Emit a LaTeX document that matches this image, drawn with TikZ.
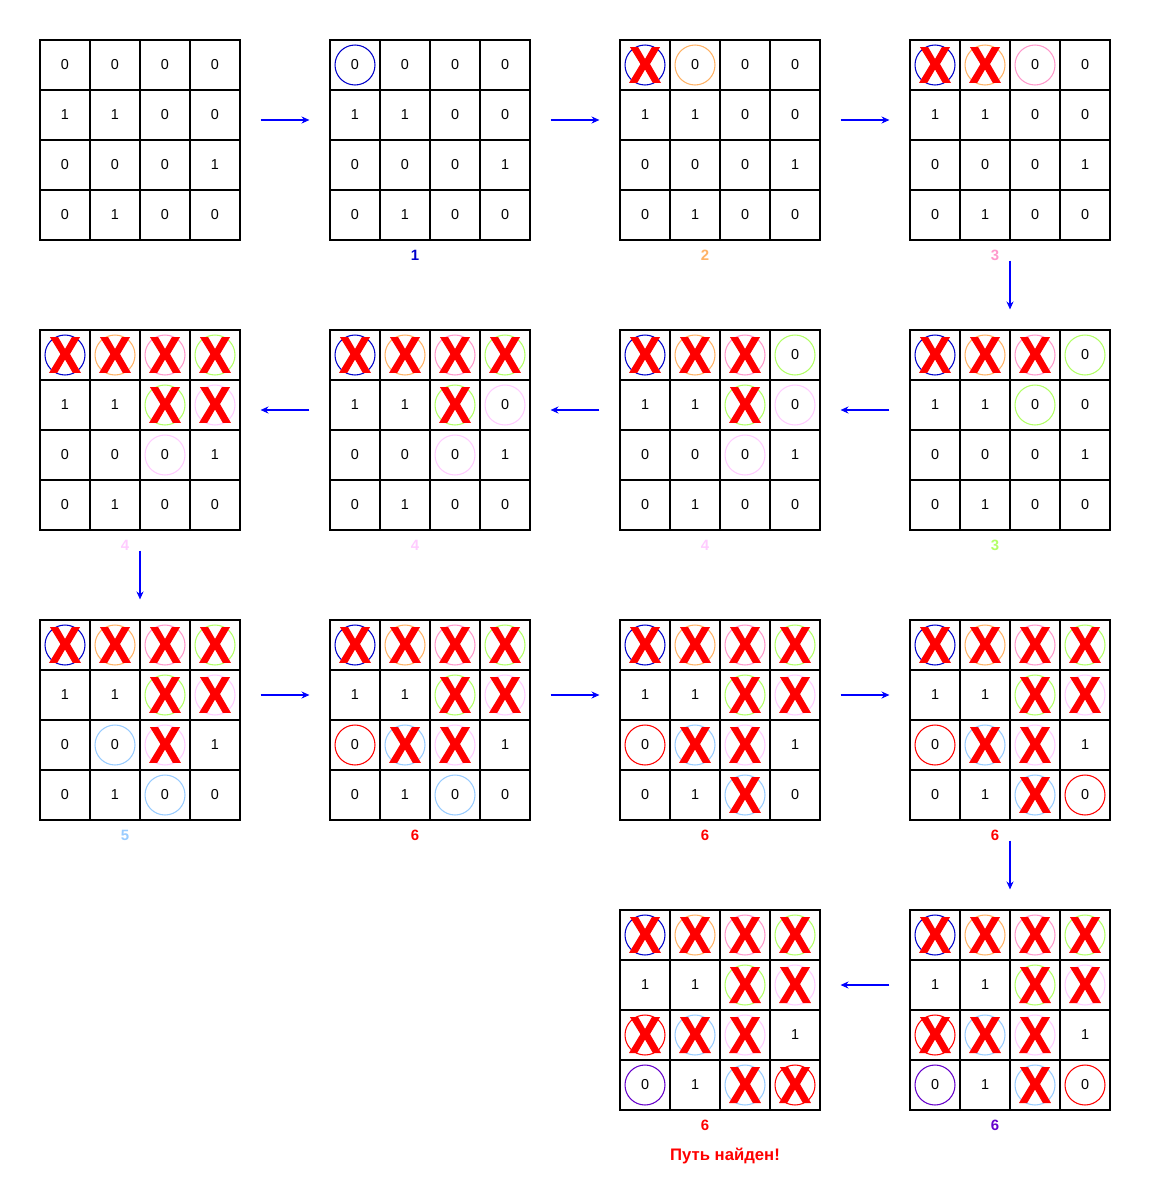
\documentclass[tikz,border=0pt]{standalone}
\usepackage{fontspec}
\setmainfont{Liberation Sans}
\newfontfamily\crossfont{Liberation Sans Bold}[RawFeature={embolden=1.8}]
\usepackage{tikz}
\usetikzlibrary{arrows.meta, positioning, calc}
\definecolor{myblue}{RGB}{0,0,255}
\definecolor{ringblue}{RGB}{0,0,204}
\definecolor{ringorange}{RGB}{255,179,102}
\definecolor{ringpink}{RGB}{255,153,204}
\definecolor{ringlime}{RGB}{179,255,102}
\definecolor{ringlav}{RGB}{255,204,255}
\definecolor{ringsky}{RGB}{153,204,255}
\definecolor{ringred}{RGB}{255,0,0}
\definecolor{ringpurple}{RGB}{102,0,204}
\tikzset{
  gridframe/.style={rectangle, draw=black, minimum size=4cm, inner sep=0pt,
    line width=0.7pt},
  cell/.style={rectangle, draw=black, minimum size=1cm, inner sep=0pt,
    line width=0.7pt, font=\fontsize{8.2}{9}\selectfont},
  ring/.style={circle, minimum size=0.8cm, inner sep=0pt, line width=0.6pt},
  cross/.style={text=red, font=\fontsize{29}{29}\crossfont,
    inner sep=0pt, xscale=0.92},
  steplabel/.style={font=\fontsize{8.5}{10}\selectfont\bfseries, inner sep=0pt},
  arrow/.style={-{Stealth[length=4.5pt,width=4pt]}, line width=0.6pt,
    color=myblue, shorten <=0.4cm, shorten >=0.4cm}
}
% one step of the search: name, top-left corner, rows (2 = crossed), rings
\newcommand{\mazegrid}[5]{%
  \node[gridframe] (#1) at ({#2+100},{#3+100}) {};
  \foreach \rowv [count=\r from 0] in {#4} {
    \foreach \v [count=\c from 0] in \rowv {
      \ifnum\v=2
        \node[cell] (#1-\r-\c) at ({#2+25+50*\c},{#3+25+50*\r}) {};
      \else
        \node[cell] (#1-\r-\c) at ({#2+25+50*\c},{#3+25+50*\r}) {\v};
      \fi
    }
  }
  % rings
  \foreach \r/\c/\col in {#5} {
    \node[ring, draw=\col] (#1-\r-\c-o) at (#1-\r-\c) {};
  }
  % crosses
  \foreach \rowv [count=\r from 0] in {#4} {
    \foreach \v [count=\c from 0] in \rowv {
      \ifnum\v=2
        \node[cross] (#1-\r-\c-x) at (#1-\r-\c) {X};
      \fi
    }
  }
}

\begin{document}
\begin{tikzpicture}[x=0.02cm, y=-0.02cm]
  \path[fill=white, use as bounding box] (0,0) rectangle (1150,1200);

  % first row
  \mazegrid{g1}{40}{40}{{0,0,0,0},{1,1,0,0},{0,0,0,1},{0,1,0,0}}{}
  \mazegrid{g2}{330}{40}{{0,0,0,0},{1,1,0,0},{0,0,0,1},{0,1,0,0}}
    {0/0/ringblue}
  \mazegrid{g3}{620}{40}{{2,0,0,0},{1,1,0,0},{0,0,0,1},{0,1,0,0}}
    {0/0/ringblue, 0/1/ringorange}
  \mazegrid{g4}{910}{40}{{2,2,0,0},{1,1,0,0},{0,0,0,1},{0,1,0,0}}
    {0/0/ringblue, 0/1/ringorange, 0/2/ringpink}

  % second row (right to left)
  \mazegrid{g5}{910}{330}{{2,2,2,0},{1,1,0,0},{0,0,0,1},{0,1,0,0}}
    {0/0/ringblue, 0/1/ringorange, 0/2/ringpink, 0/3/ringlime, 1/2/ringlime}
  \mazegrid{g6}{620}{330}{{2,2,2,0},{1,1,2,0},{0,0,0,1},{0,1,0,0}}
    {0/0/ringblue, 0/1/ringorange, 0/2/ringpink, 0/3/ringlime, 1/2/ringlime,
     1/3/ringlav, 2/2/ringlav}
  \mazegrid{g7}{330}{330}{{2,2,2,2},{1,1,2,0},{0,0,0,1},{0,1,0,0}}
    {0/0/ringblue, 0/1/ringorange, 0/2/ringpink, 0/3/ringlime, 1/2/ringlime,
     1/3/ringlav, 2/2/ringlav}
  \mazegrid{g8}{40}{330}{{2,2,2,2},{1,1,2,2},{0,0,0,1},{0,1,0,0}}
    {0/0/ringblue, 0/1/ringorange, 0/2/ringpink, 0/3/ringlime, 1/2/ringlime,
     1/3/ringlav, 2/2/ringlav}

  % third row
  \mazegrid{g9}{40}{620}{{2,2,2,2},{1,1,2,2},{0,0,2,1},{0,1,0,0}}
    {0/0/ringblue, 0/1/ringorange, 0/2/ringpink, 0/3/ringlime, 1/2/ringlime,
     1/3/ringlav, 2/2/ringlav, 2/1/ringsky, 3/2/ringsky}
  \mazegrid{g10}{330}{620}{{2,2,2,2},{1,1,2,2},{0,2,2,1},{0,1,0,0}}
    {0/0/ringblue, 0/1/ringorange, 0/2/ringpink, 0/3/ringlime, 1/2/ringlime,
     1/3/ringlav, 2/2/ringlav, 2/1/ringsky, 3/2/ringsky, 2/0/ringred}
  \mazegrid{g11}{620}{620}{{2,2,2,2},{1,1,2,2},{0,2,2,1},{0,1,2,0}}
    {0/0/ringblue, 0/1/ringorange, 0/2/ringpink, 0/3/ringlime, 1/2/ringlime,
     1/3/ringlav, 2/2/ringlav, 2/1/ringsky, 3/2/ringsky, 2/0/ringred}
  \mazegrid{g12}{910}{620}{{2,2,2,2},{1,1,2,2},{0,2,2,1},{0,1,2,0}}
    {0/0/ringblue, 0/1/ringorange, 0/2/ringpink, 0/3/ringlime, 1/2/ringlime,
     1/3/ringlav, 2/2/ringlav, 2/1/ringsky, 3/2/ringsky, 2/0/ringred,
     3/3/ringred}

  % last row
  \mazegrid{g13}{910}{910}{{2,2,2,2},{1,1,2,2},{2,2,2,1},{0,1,2,0}}
    {0/0/ringblue, 0/1/ringorange, 0/2/ringpink, 0/3/ringlime, 1/2/ringlime,
     1/3/ringlav, 2/2/ringlav, 2/1/ringsky, 3/2/ringsky, 2/0/ringred,
     3/3/ringred, 3/0/ringpurple}
  \mazegrid{g14}{620}{910}{{2,2,2,2},{1,1,2,2},{2,2,2,1},{0,1,2,2}}
    {0/0/ringblue, 0/1/ringorange, 0/2/ringpink, 0/3/ringlime, 1/2/ringlime,
     1/3/ringlav, 2/2/ringlav, 2/1/ringsky, 3/2/ringsky, 2/0/ringred,
     3/3/ringred, 3/0/ringpurple}

  % step numbers
  \node[steplabel, text=ringblue]   (l2)  at ([xshift=-0.3cm,yshift=-0.3cm]g2.south) {1};
  \node[steplabel, text=ringorange] (l3)  at ([xshift=-0.3cm,yshift=-0.3cm]g3.south) {2};
  \node[steplabel, text=ringpink]   (l4)  at ([xshift=-0.3cm,yshift=-0.3cm]g4.south) {3};
  \node[steplabel, text=ringlime]   (l5)  at ([xshift=-0.3cm,yshift=-0.3cm]g5.south) {3};
  \node[steplabel, text=ringlav]    (l6)  at ([xshift=-0.3cm,yshift=-0.3cm]g6.south) {4};
  \node[steplabel, text=ringlav]    (l7)  at ([xshift=-0.3cm,yshift=-0.3cm]g7.south) {4};
  \node[steplabel, text=ringlav]    (l8)  at ([xshift=-0.3cm,yshift=-0.3cm]g8.south) {4};
  \node[steplabel, text=ringsky]    (l9)  at ([xshift=-0.3cm,yshift=-0.3cm]g9.south) {5};
  \node[steplabel, text=ringred]    (l10) at ([xshift=-0.3cm,yshift=-0.3cm]g10.south) {6};
  \node[steplabel, text=ringred]    (l11) at ([xshift=-0.3cm,yshift=-0.3cm]g11.south) {6};
  \node[steplabel, text=ringred]    (l12) at ([xshift=-0.3cm,yshift=-0.3cm]g12.south) {6};
  \node[steplabel, text=ringpurple] (l13) at ([xshift=-0.3cm,yshift=-0.3cm]g13.south) {6};
  \node[steplabel, text=ringred]    (l14) at ([xshift=-0.3cm,yshift=-0.3cm]g14.south) {6};
  \node[steplabel, text=ringred, font=\fontsize{9.5}{11}\selectfont\bfseries]
    (found) at ([xshift=0.1cm,yshift=-0.9cm]g14.south) {Путь найден!};

  % arrows between the steps
  \draw[arrow] ([yshift=0.4cm]g1.east) -- ([yshift=0.4cm]g2.west);
  \draw[arrow] ([yshift=0.4cm]g2.east) -- ([yshift=0.4cm]g3.west);
  \draw[arrow] ([yshift=0.4cm]g3.east) -- ([yshift=0.4cm]g4.west);
  \draw[arrow] (g4.south) -- (g5.north);
  \draw[arrow] ([yshift=0.4cm]g5.west) -- ([yshift=0.4cm]g6.east);
  \draw[arrow] ([yshift=0.4cm]g6.west) -- ([yshift=0.4cm]g7.east);
  \draw[arrow] ([yshift=0.4cm]g7.west) -- ([yshift=0.4cm]g8.east);
  \draw[arrow] (g8.south) -- (g9.north);
  \draw[arrow] ([yshift=0.5cm]g9.east) -- ([yshift=0.5cm]g10.west);
  \draw[arrow] ([yshift=0.5cm]g10.east) -- ([yshift=0.5cm]g11.west);
  \draw[arrow] ([yshift=0.5cm]g11.east) -- ([yshift=0.5cm]g12.west);
  \draw[arrow] (g12.south) -- (g13.north);
  \draw[arrow] ([yshift=0.5cm]g13.west) -- ([yshift=0.5cm]g14.east);
\end{tikzpicture}
\end{document}
